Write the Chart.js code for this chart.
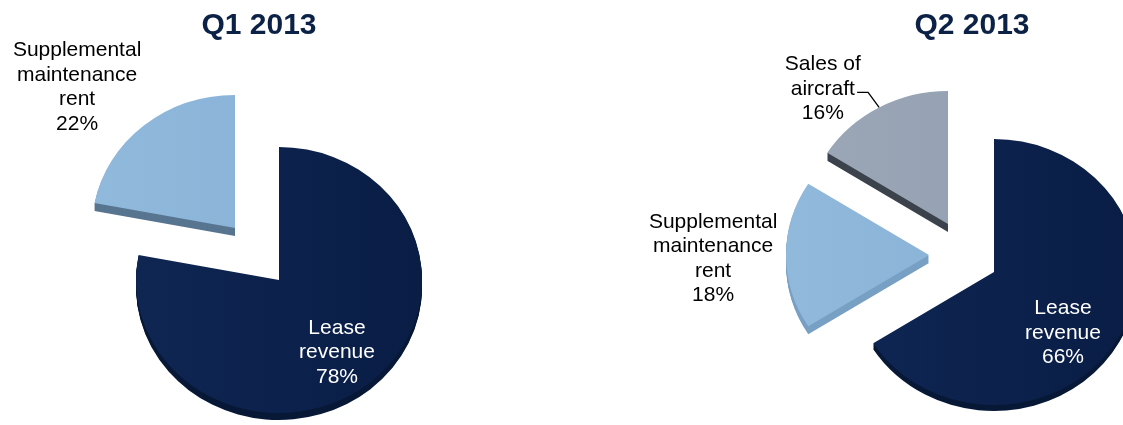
<!DOCTYPE html>
<html>
<head>
<meta charset="utf-8">
<script src="https://cdn.jsdelivr.net/npm/chart.js@4.4.1/dist/chart.umd.min.js"></script>
<style>
  html, body { margin: 0; padding: 0; background: #ffffff; overflow: hidden; }
  #wrap { position: relative; width: 1123px; height: 425px; overflow: hidden; }
  #wrap canvas { position: absolute; }
  .title {
    position: absolute; width: 240px; text-align: center;
    font: bold 30px "Liberation Sans", Arial, sans-serif; line-height: 30px;
    color: #0c2146;
  }
</style>
</head>
<body>
<div id="wrap">
  <canvas id="q1" width="558" height="560" style="left:0px;top:0px"></canvas>
  <canvas id="q2" width="720" height="544" style="left:634px;top:0px"></canvas>
  <div class="title" id="t1" style="left:139px;top:9px"></div>
  <div class="title" id="t2" style="left:852px;top:9px"></div>
</div>
<script>
// Revenue mix per quarter (percent of total)
const chartTitles = ['Q1 2013', 'Q2 2013'];
const q1Categories = [['Lease', 'revenue'], ['Supplemental', 'maintenance', 'rent']];
const q1Values = [78, 22];
const q2Categories = [['Lease', 'revenue'], ['Supplemental', 'maintenance', 'rent'], ['Sales of', 'aircraft']];
const q2Values = [66, 18, 16];

// Slice shading: light-to-dark pair for the top face, plus the side wall colour
const LEASE = ['#0f2653', '#091d45'], LEASE_SIDE = '#081937';
const SUPP = ['#90b9dc', '#86b0d4'];
const SALES = ['#9ba7b7', '#919eaf'], SALES_SIDE = '#3c434d';

document.getElementById('t1').textContent = chartTitles[0];
document.getElementById('t2').textContent = chartTitles[1];

const RADIUS = 143;

function shade(canvas, pair) {
  const ctx = canvas.getContext('2d');
  const cx = canvas.width / 2;
  const g = ctx.createLinearGradient(cx - RADIUS, 0, cx + RADIUS, 0);
  g.addColorStop(0, pair[0]);
  g.addColorStop(1, pair[1]);
  return g;
}

// Tilted, extruded pie: each slice is drawn by the arc element itself,
// first as a stack of darker copies (the side wall), then as the top face.
const pie3d = {
  id: 'pie3d',
  beforeDatasetDraw(chart, args, opts) {
    const ctx = chart.ctx;
    const arcs = args.meta.data;
    const paint = (arc, i, color, dy) => {
      const [ex, ey] = opts.explode[i];
      const ghost = Object.create(arc);
      ghost.options = Object.assign({}, arc.options, { backgroundColor: color });
      ctx.save();
      ctx.translate(ex, ey + dy);
      ctx.translate(arc.x, arc.y);
      ctx.scale(1, opts.squash);
      ctx.translate(-arc.x, -arc.y);
      arc.draw.call(ghost, ctx);
      ctx.restore();
    };
    arcs.forEach((arc, i) => {
      for (let d = opts.depth[i]; d >= 1; d--) paint(arc, i, opts.sideColors[i], d);
    });
    arcs.forEach((arc, i) => paint(arc, i, arc.options.backgroundColor, 0));
    return false;
  },
  afterDraw(chart, args, opts) {
    const ctx = chart.ctx;
    const meta = chart.getDatasetMeta(0);
    const values = chart.data.datasets[0].data;
    ctx.save();
    ctx.font = opts.font;
    ctx.textAlign = 'center';
    ctx.textBaseline = 'middle';
    meta.data.forEach((arc, i) => {
      const p = opts.placement[i];
      const [ex, ey] = opts.explode[i];
      const cx = arc.x + ex, cy = arc.y + ey;
      const mid = (arc.startAngle + arc.endAngle) / 2;
      const a = mid + p.turn * Math.PI / 180;
      const r = arc.outerRadius * p.k;
      const lx = cx + Math.cos(a) * r;
      const ly = cy + Math.sin(a) * r * opts.squash;
      const lines = [...chart.data.labels[i], values[i] + '%'];
      ctx.fillStyle = p.color;
      lines.forEach((t, j) => {
        ctx.fillText(t, lx, ly + (j - (lines.length - 1) / 2) * opts.lineHeight);
      });
      if (p.leader) {
        const x0 = cx + Math.cos(mid) * arc.outerRadius;
        const y0 = cy + Math.sin(mid) * arc.outerRadius * opts.squash;
        ctx.beginPath();
        ctx.moveTo(x0, y0);
        ctx.lineTo(x0 + p.leader[0], y0 + p.leader[1]);
        ctx.lineTo(x0 + p.leader[0] + p.leader[2], y0 + p.leader[1]);
        ctx.strokeStyle = '#000000';
        ctx.lineWidth = 1.3;
        ctx.stroke();
      }
    });
    ctx.restore();
  }
};

function makePie(id, labels, values, colorPairs, sideColors, depth, explode, placement) {
  const canvas = document.getElementById(id);
  return new Chart(canvas, {
    type: 'pie',
    data: {
      labels: labels,
      datasets: [{
        data: values,
        backgroundColor: colorPairs.map(p => shade(canvas, p)),
        borderWidth: 0
      }]
    },
    options: {
      responsive: false,
      animation: false,
      events: [],
      radius: RADIUS,
      layout: { padding: 0 },
      plugins: {
        legend: { display: false },
        tooltip: { enabled: false },
        pie3d: {
          squash: 0.93,
          depth: depth,
          sideColors: sideColors,
          explode: explode,
          placement: placement,
          font: '21px "Liberation Sans", Arial, sans-serif',
          lineHeight: 24.5
        }
      }
    },
    plugins: [pie3d]
  });
}

makePie('q1', q1Categories, q1Values,
  [LEASE, SUPP], [LEASE_SIDE, '#587590'], [7, 8],
  [[0, 0], [-44, -52]],
  [{ k: 0.68, turn: 3, color: '#ffffff' },
   { k: 1.53, turn: -6.6, color: '#000000' }]);

makePie('q2', q2Categories, q2Values,
  [LEASE, SUPP, SALES], [LEASE_SIDE, '#78a0c4', SALES_SIDE], [6, 8, 8],
  [[0, 0], [-65, -17], [-46, -48]],
  [{ k: 0.666, turn: 14.8, color: '#ffffff' },
   { k: 1.51, turn: -1, color: '#000000' },
   { k: 1.34, turn: -12, color: '#000000', leader: [-11, -15, -11] }]);
</script>
</body>
</html>
